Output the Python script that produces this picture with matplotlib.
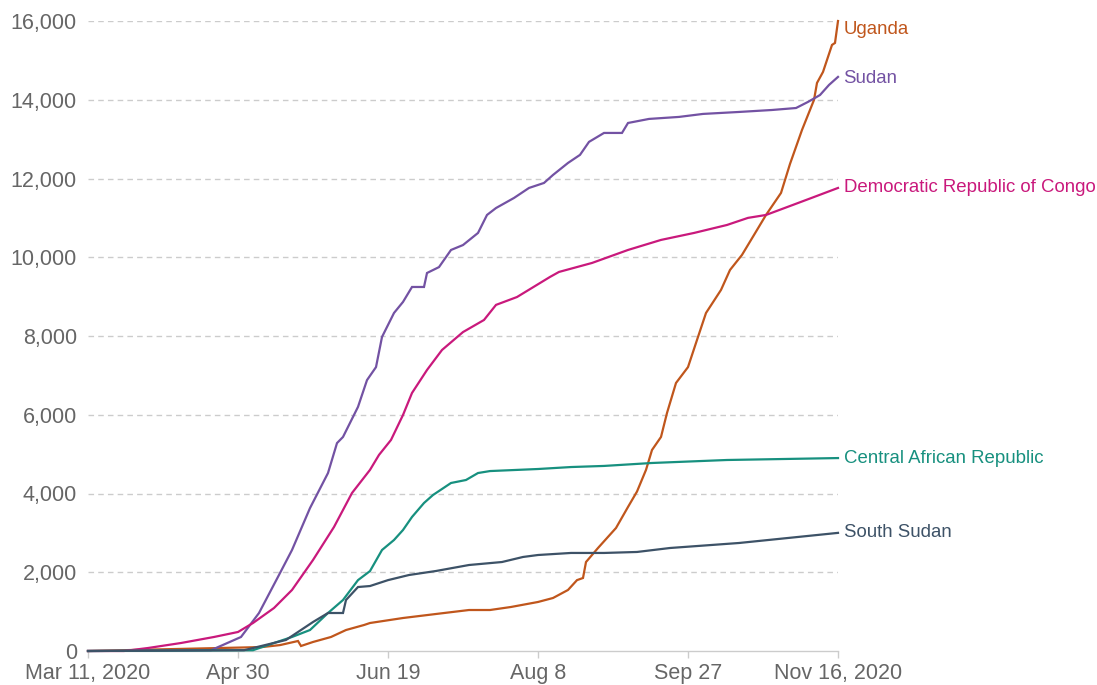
import matplotlib
matplotlib.use("Agg")
import matplotlib.pyplot as plt
import pandas as pd

# ---------------- data ----------------
uganda_dates = ["2020-03-11", "2020-04-24", "2020-05-08", "2020-05-14", "2020-05-20", "2020-05-21",
                "2020-05-25", "2020-05-31", "2020-06-05", "2020-06-11", "2020-06-13", "2020-06-24",
                "2020-07-05", "2020-07-16", "2020-07-23", "2020-07-30", "2020-08-08", "2020-08-13",
                "2020-08-18", "2020-08-21", "2020-08-23", "2020-08-24", "2020-08-28", "2020-08-31",
                "2020-09-03", "2020-09-07", "2020-09-10", "2020-09-13", "2020-09-15", "2020-09-18",
                "2020-09-20", "2020-09-23", "2020-09-27", "2020-09-30", "2020-10-03", "2020-10-08",
                "2020-10-11", "2020-10-15", "2020-10-19", "2020-10-23", "2020-10-28", "2020-10-31",
                "2020-11-04", "2020-11-08", "2020-11-09", "2020-11-11", "2020-11-14", "2020-11-15",
                "2020-11-16"]
uganda_values = [0, 76, 100, 150, 254, 127,
                 229, 356, 533, 660, 711, 838,
                 940, 1041, 1041, 1118, 1245, 1346,
                 1550, 1800, 1854, 2260, 2616, 2870,
                 3124, 3658, 4050, 4600, 5105, 5436,
                 6045, 6807, 7210, 7900, 8585, 9170,
                 9677, 10060, 10566, 11074, 11633, 12370,
                 13233, 13995, 14427, 14706, 15392, 15443,
                 16000]

sudan_dates = ["2020-03-11", "2020-04-21", "2020-05-01", "2020-05-07", "2020-05-14", "2020-05-18",
               "2020-05-24", "2020-05-30", "2020-06-02", "2020-06-04", "2020-06-09", "2020-06-12",
               "2020-06-15", "2020-06-17", "2020-06-21", "2020-06-24", "2020-06-27", "2020-07-01",
               "2020-07-02", "2020-07-06", "2020-07-10", "2020-07-14", "2020-07-19", "2020-07-22",
               "2020-07-25", "2020-07-31", "2020-08-05", "2020-08-10", "2020-08-13", "2020-08-18",
               "2020-08-22", "2020-08-25", "2020-08-30", "2020-09-05", "2020-09-07", "2020-09-14",
               "2020-09-24", "2020-10-02", "2020-10-14", "2020-10-25", "2020-11-02", "2020-11-06",
               "2020-11-10", "2020-11-13", "2020-11-16"]
sudan_values = [0, 20, 356, 965, 1980, 2565,
                3630, 4520, 5280, 5436, 6200, 6880,
                7210, 7975, 8585, 8865, 9245, 9245,
                9600, 9750, 10185, 10310, 10617, 11074,
                11250, 11506, 11760, 11887, 12090, 12395,
                12600, 12930, 13157, 13157, 13410, 13513,
                13564, 13640, 13690, 13740, 13790, 13945,
                14120, 14376, 14580]

drc_dates = ["2020-03-11", "2020-03-23", "2020-03-31", "2020-04-11", "2020-04-22", "2020-04-30",
             "2020-05-05", "2020-05-12", "2020-05-18", "2020-05-25", "2020-06-01", "2020-06-07",
             "2020-06-13", "2020-06-16", "2020-06-20", "2020-06-24", "2020-06-27", "2020-07-02",
             "2020-07-07", "2020-07-14", "2020-07-21", "2020-07-25", "2020-08-01", "2020-08-12",
             "2020-08-15", "2020-08-26", "2020-09-07", "2020-09-18", "2020-09-29", "2020-10-10",
             "2020-10-17", "2020-10-23", "2020-11-01", "2020-11-08", "2020-11-16"]
drc_values = [0, 0, 76, 203, 356, 483,
              711, 1092, 1550, 2311, 3150, 4013,
              4600, 4980, 5360, 5994, 6553, 7137,
              7645, 8100, 8407, 8790, 8990, 9500,
              9627, 9855, 10185, 10440, 10617, 10820,
              11000, 11074, 11330, 11530, 11760]

car_dates = ["2020-03-11", "2020-05-05", "2020-05-12", "2020-05-18", "2020-05-24", "2020-05-30",
             "2020-06-04", "2020-06-09", "2020-06-13", "2020-06-17", "2020-06-21", "2020-06-24",
             "2020-06-27", "2020-07-01", "2020-07-04", "2020-07-10", "2020-07-15", "2020-07-19",
             "2020-07-23", "2020-08-08", "2020-08-19", "2020-08-30", "2020-09-15", "2020-10-10",
             "2020-11-16"]
car_values = [0, 20, 203, 356, 533, 965,
              1295, 1800, 2030, 2565, 2819, 3073,
              3404, 3759, 3962, 4267, 4343, 4520,
              4570, 4622, 4672, 4700, 4775, 4851,
              4900]

ssudan_dates = ["2020-03-11", "2020-05-02", "2020-05-16", "2020-05-25", "2020-05-30", "2020-06-04",
                "2020-06-05", "2020-06-09", "2020-06-13", "2020-06-19", "2020-06-26", "2020-07-05",
                "2020-07-16", "2020-07-27", "2020-08-03", "2020-08-08", "2020-08-19", "2020-08-30",
                "2020-09-10", "2020-09-21", "2020-10-14", "2020-11-16"]
ssudan_values = [0, 20, 280, 736, 965, 965,
                 1295, 1625, 1650, 1800, 1930, 2032,
                 2184, 2260, 2388, 2438, 2490, 2490,
                 2515, 2616, 2743, 3000]

series_names = ["Uganda", "Sudan", "Democratic Republic of Congo",
                "Central African Republic", "South Sudan"]
series_dates = [uganda_dates, sudan_dates, drc_dates, car_dates, ssudan_dates]
series_values = [uganda_values, sudan_values, drc_values, car_values, ssudan_values]
series_colors = ["#c0561c", "#7352a3", "#c9197c", "#17907f", "#3d5267"]
label_offsets_px = [-9, -2, 0, 0, 0]

x_tick_dates = ["2020-03-11", "2020-04-30", "2020-06-19", "2020-08-08", "2020-09-27", "2020-11-16"]
x_tick_labels = ["Mar 11, 2020", "Apr 30", "Jun 19", "Aug 8", "Sep 27", "Nov 16, 2020"]
y_ticks = [0, 2000, 4000, 6000, 8000, 10000, 12000, 14000, 16000]

# ---------------- plot ----------------
plt.rcParams["font.family"] = ["Liberation Sans", "DejaVu Sans"]
fig = plt.figure(figsize=(10.97, 6.85), dpi=100)
ax = fig.add_axes([88 / 1097, 1 - 651 / 685, 750 / 1097, 630 / 685])

draw_order = [4, 3, 2, 1, 0]
for i in draw_order:
    d = pd.to_datetime(series_dates[i])
    ax.plot(d, series_values[i], color=series_colors[i], lw=1.6, solid_joinstyle="miter",
            zorder=3 + i, clip_on=False)

xmin = pd.Timestamp(x_tick_dates[0])
xmax = pd.Timestamp(x_tick_dates[-1])
ax.set_xlim(xmin, xmax)
ax.set_ylim(0, 16000)

for i in range(len(series_names)):
    ax.annotate(series_names[i], xy=(xmax, series_values[i][-1]),
                xytext=(4, label_offsets_px[i] * 0.72), textcoords="offset points",
                color=series_colors[i], fontsize=13.4, va="center", ha="left",
                annotation_clip=False)

ax.set_yticks(y_ticks)
ax.set_yticklabels([f"{v:,}" for v in y_ticks])
ax.set_xticks(pd.to_datetime(x_tick_dates))
ax.set_xticklabels(x_tick_labels)

for v in y_ticks[1:]:
    ax.axhline(v, color="#cccccc", lw=1.0, ls=(0, (4, 3)), zorder=1)

for s in ["top", "right", "left"]:
    ax.spines[s].set_visible(False)
ax.spines["bottom"].set_color("#cccccc")
ax.spines["bottom"].set_linewidth(1.0)

ax.tick_params(axis="y", length=0, pad=8, labelsize=15.5, labelcolor="#666666")
ax.tick_params(axis="x", length=5, width=1.0, color="#cccccc", pad=3.5,
               labelsize=15.5, labelcolor="#666666")
# lift the "0" label a touch so it clears the first date label, as in the reference
ax.get_yticklabels()[0].set_verticalalignment("center_baseline")

fig.savefig("out.png", dpi=100, facecolor="white")
